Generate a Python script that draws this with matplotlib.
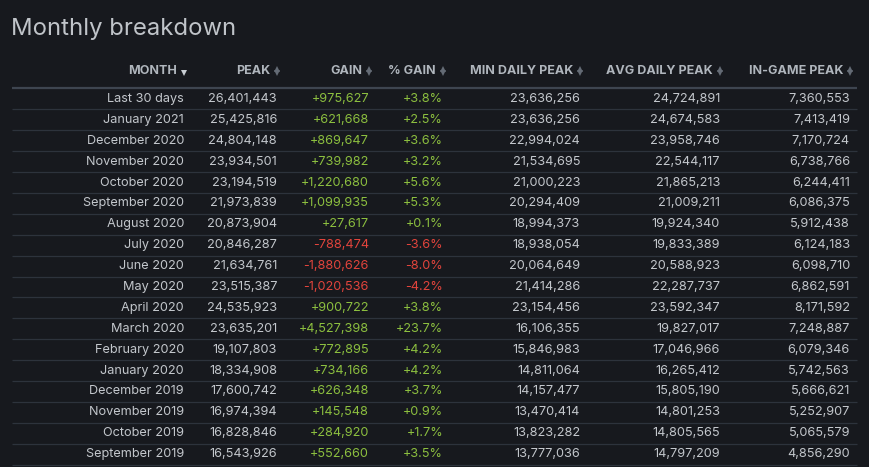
import matplotlib
matplotlib.use("Agg")
import matplotlib.pyplot as plt

# ---- data ----
months = ["Last 30 days", "January 2021", "December 2020", "November 2020", "October 2020",
          "September 2020", "August 2020", "July 2020", "June 2020", "May 2020", "April 2020",
          "March 2020", "February 2020", "January 2020", "December 2019", "November 2019",
          "October 2019", "September 2019"]
peak = [26401443, 25425816, 24804148, 23934501, 23194519, 21973839, 20873904, 20846287,
        21634761, 23515387, 24535923, 23635201, 19107803, 18334908, 17600742, 16974394,
        16828846, 16543926]
gain = [975627, 621668, 869647, 739982, 1220680, 1099935, 27617, -788474, -1880626,
        -1020536, 900722, 4527398, 772895, 734166, 626348, 145548, 284920, 552660]
pct_gain = [3.8, 2.5, 3.6, 3.2, 5.6, 5.3, 0.1, -3.6, -8.0, -4.2, 3.8, 23.7, 4.2, 4.2,
            3.7, 0.9, 1.7, 3.5]
min_daily = [23636256, 23636256, 22994024, 21534695, 21000223, 20294409, 18994373,
             18938054, 20064649, 21414286, 23154456, 16106355, 15846983, 14811064,
             14157477, 13470414, 13823282, 13777036]
avg_daily = [24724891, 24674583, 23958746, 22544117, 21865213, 21009211, 19924340,
             19833389, 20588923, 22287737, 23592347, 19827017, 17046966, 16265412,
             15805190, 14801253, 14805565, 14797209]
ingame = [7360553, 7413419, 7170724, 6738766, 6244411, 6086375, 5912438, 6124183,
          6098710, 6862591, 8171592, 7248887, 6079346, 5742563, 5666621, 5252907,
          5065579, 4856290]
headers = ["MONTH", "PEAK", "GAIN", "% GAIN", "MIN DAILY PEAK", "AVG DAILY PEAK", "IN-GAME PEAK"]

# ---- style ----
BG = "#17191e"
TXT = "#c3c7cc"
HDR = "#b0b6bd"
GREEN = "#8cbf3f"
RED = "#e2443c"
SEP = "#2d333c"
HSEP = "#3e4550"
ARROW = "#646b75"
FONT = ["Inter", "DejaVu Sans"]

W, H = 869, 467
fig = plt.figure(figsize=(W / 100, H / 100), dpi=100, facecolor=BG)
ax = fig.add_axes([0, 0, 1, 1])
ax.set_facecolor(BG)
ax.set_xlim(0, W)
ax.set_ylim(H, 0)
ax.axis("off")

col_right = [184, 277, 369, 443, 580, 720, 850]
row0, row_h = 98.9, 20.9
header_y = 70.8
left, right = 12, 857

ax.text(11, 28.5, "Monthly breakdown", fontsize=17.2, color="#c0c4c9", family=FONT,
        ha="left", va="center")

for i, (h, xr) in enumerate(zip(headers, col_right)):
    ax.text(xr - 7, header_y, h, fontsize=9, fontweight="bold", color=HDR, family=FONT,
            ha="right", va="center")
    if i == 0:
        ax.plot([xr], [header_y + 2.6], marker="v", ms=4.6, color="#c9ced4", mew=0)
    else:
        ax.plot([xr], [header_y - 2.1], marker="^", ms=4.2, color=ARROW, mew=0)
        ax.plot([xr], [header_y + 2.1], marker="v", ms=4.2, color=ARROW, mew=0)

ax.plot([left, right], [header_y + 17.2, header_y + 17.2], color=HSEP, lw=1.6,
        solid_capstyle="butt")

def fmt(v):
    return f"{v:,}"

for r in range(len(months)):
    y = row0 + r * row_h
    g = gain[r]
    p = pct_gain[r]
    gc = GREEN if g >= 0 else RED
    vals = [
        (months[r], TXT),
        (fmt(peak[r]), TXT),
        (f"{g:+,}", gc),
        (f"{p:+.1f}%", gc),
        (fmt(min_daily[r]), TXT),
        (fmt(avg_daily[r]), TXT),
        (fmt(ingame[r]), TXT),
    ]
    for (s, c), xr in zip(vals, col_right):
        ax.text(xr, y, s, fontsize=9.15, color=c, family=FONT, ha="right", va="center")
    ys = y + row_h / 2
    ax.plot([left, right], [ys, ys], color=SEP, lw=0.9, solid_capstyle="butt")

fig.savefig("out.png", dpi=100, facecolor=BG)
